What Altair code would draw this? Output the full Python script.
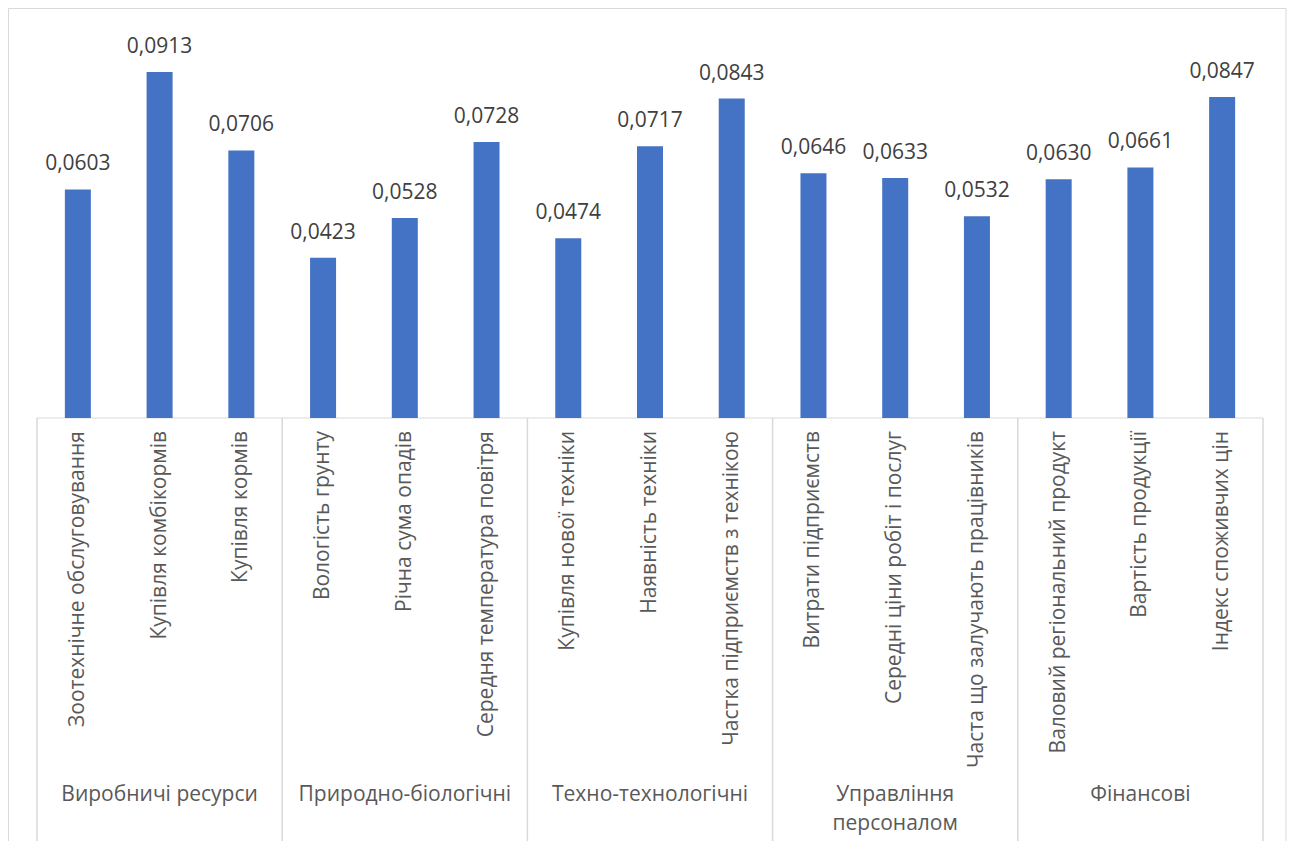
import altair as alt
import pandas as pd

groups = ["Виробничі ресурси", "Природно-біологічні", "Техно-технологічні",
          "Управління\nперсоналом", "Фінансові"]
group_sizes = [3, 3, 3, 3, 3]
categories = [
    "Зоотехнічне обслуговування", "Купівля комбікормів", "Купівля кормів",
    "Вологість грунту", "Річна сума опадів", "Середня температура повітря",
    "Купівля нової техніки", "Наявність техніки", "Частка підприємств з технікою",
    "Витрати підприємств", "Середні ціни робіт і послуг", "Часта що залучають працівників",
    "Валовий регіональний продукт", "Вартість продукції", "Індекс споживчих цін",
]
values = [0.0603, 0.0913, 0.0706, 0.0423, 0.0528, 0.0728, 0.0474, 0.0717, 0.0843,
          0.0646, 0.0633, 0.0532, 0.0630, 0.0661, 0.0847]

W, H = 1226, 379
FONT = "Open Sans"

bars_df = pd.DataFrame({
    "idx": list(range(len(categories))),
    "cat": categories,
    "value": values,
    "label": [f"{v:.4f}".replace(".", ",") for v in values],
})

bounds = [-0.5]
for s in group_sizes:
    bounds.append(bounds[-1] + s)
sep_df = pd.DataFrame({"x": bounds})
grp_df = pd.DataFrame({
    "x": [(bounds[i] + bounds[i + 1]) / 2 for i in range(len(groups))],
    "g": groups,
})

xs = alt.Scale(domain=[-0.5, len(categories) - 0.5], nice=False, zero=False, padding=0)
ys = alt.Scale(domain=[0, 0.1], nice=False)
X = lambda f: alt.X(f, type="quantitative", scale=xs, axis=None)

border = alt.Chart(pd.DataFrame({"a": [0]})).mark_rect(
    fill=None, stroke="#D9D9D9", strokeWidth=1
).encode(x=alt.value(-28.5), x2=alt.value(1249), y=alt.value(-30.5), y2=alt.value(900))

bars = alt.Chart(bars_df).mark_bar(color="#4472C4", size=26).encode(
    x=X("idx"), y=alt.Y("value:Q", scale=ys, axis=None)
)

vlabels = alt.Chart(bars_df).mark_text(
    font=FONT, fontSize=21, color="#404040", baseline="alphabetic", dy=-19
).encode(x=X("idx"), y=alt.Y("value:Q", scale=ys), text="label:N")

baseline = alt.Chart(pd.DataFrame({"a": [0]})).mark_rule(color="#D9D9D9", strokeWidth=1).encode(
    x=alt.value(0), x2=alt.value(W), y=alt.value(H)
)

seps = alt.Chart(sep_df).mark_rule(color="#D9D9D9", strokeWidth=1.5).encode(
    x=X("x"), y=alt.value(H), y2=alt.value(900)
)

clabels = alt.Chart(bars_df).mark_text(
    font=FONT, fontSize=21, color="#595959", angle=270, align="right", baseline="middle"
).encode(x=X("idx"), y=alt.value(H + 13), text="cat:N")

glabels = alt.Chart(grp_df).mark_text(
    font=FONT, fontSize=21, color="#595959", align="center", baseline="top",
    lineBreak="\n", lineHeight=29
).encode(x=X("x"), y=alt.value(H + 366), text="g:N")

chart = alt.layer(border, baseline, seps, bars, vlabels, clabels, glabels).properties(
    width=W, height=H,
    autosize=alt.AutoSizeParams(type="none"),
    padding={"left": 29, "top": 31, "right": 24, "bottom": 423},
).configure_view(stroke=None)

chart.save("out.html", embed_options={"renderer": "svg", "actions": False})
